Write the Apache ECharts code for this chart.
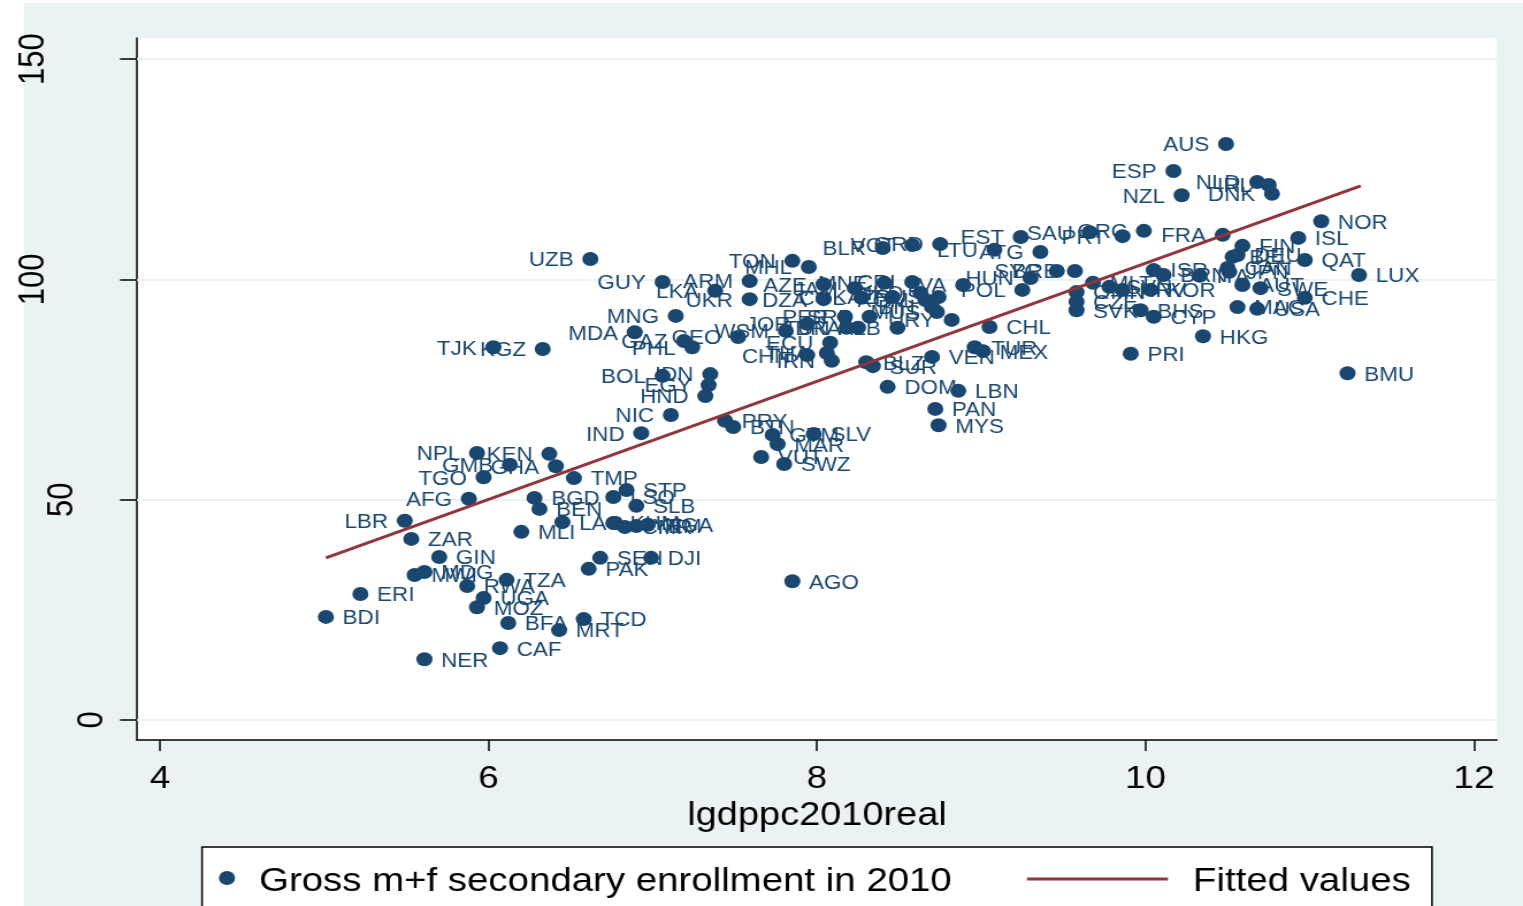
<!DOCTYPE html>
<html>
<head>
<meta charset="utf-8">
<script src="https://cdn.jsdelivr.net/npm/echarts@6/dist/echarts.min.js"></script>
<style>
html,body{margin:0;padding:0;background:#ffffff;overflow:hidden;}
#c{width:1324px;height:906px;transform:scaleX(1.15030);transform-origin:0 0;}
</style>
</head>
<body>
<div id="c"></div>
<script>
// ---- data ----
const codes = [
 'BDI','ERI','NER','CAF','MWI','MDG','GIN','RWA','TZA','UGA',
 'MOZ','BFA','MRT','TCD','PAK','SEN','DJI','AGO','LBR','ZAR',
 'AFG','TGO','NPL','GMB','KEN','GHA','TMP','BGD','BEN','MLI',
 'LAO','STP','LSO','SLB','KHM','CMR','YEM','NGA','IND','NIC',
 'HND','EGY','IDN','BOL','PRY','BTN','GTM','SLV','MAR','VUT',
 'SWZ','DOM','LBN','PAN','MYS','VEN','BLZ','SUR','TUR','MEX',
 'CHL','TJK','KGZ','MDA','MNG','GAZ','PHL','GEO','WSM','UZB',
 'GUY','ARM','LKA','UKR','AZE','DZA','TON','MHL','BLR','VCT',
 'GRD','EST','LTU','ATG','SAU','PRT','GRC','FRA','JAM','MNE',
 'CRI','KAZ','COL','MKD','ROM','RUS','BIH','MUS','LVA','HUN',
 'POL','SRB','PER','JOR','TUN','ALB','URY','BRA','ECU','THA',
 'CHN','IRN','SYC','BRB','MLT','SVN','HRV','KOR','OMN','CZE',
 'SVK','BHS','CYP','PRI','HKG','ISR','BRN','ITA','CAN','JPN',
 'BEL','DEU','FIN','AUT','SWE','MAC','USA','CHE','QAT','LUX',
 'BMU','ISL','NOR','AUS','ESP','NZL','NLD','IRL','DNK'
];
const lgdppc2010real = [
 5.01,5.22,5.61,6.07,5.55,5.61,5.70,5.87,6.11,5.97,
 5.93,6.12,6.43,6.58,6.61,6.68,6.99,7.85,5.49,5.53,
 5.88,5.97,5.93,6.13,6.37,6.41,6.52,6.28,6.31,6.20,
 6.45,6.84,6.76,6.90,6.76,6.83,6.90,6.97,6.93,7.11,
 7.32,7.34,7.35,7.06,7.44,7.49,7.73,7.98,7.76,7.66,
 7.80,8.43,8.86,8.72,8.74,8.70,8.30,8.34,8.96,9.01,
 9.05,6.03,6.33,6.89,7.14,7.19,7.24,7.52,7.81,6.62,
 7.06,7.59,7.38,7.59,8.04,8.04,7.85,7.95,8.40,8.58,
 8.75,9.24,9.08,9.36,9.66,9.86,9.99,10.47,8.23,8.41,
 8.58,8.46,8.27,8.63,8.66,8.74,8.70,8.73,8.89,9.30,
 9.25,8.32,8.17,7.94,8.18,8.49,8.82,8.25,8.08,8.06,
 7.94,8.09,9.46,9.57,9.68,9.78,9.86,10.03,9.58,9.58,
 9.58,9.97,10.05,9.91,10.35,10.05,10.11,10.33,10.50,10.51,
 10.53,10.56,10.59,10.59,10.70,10.56,10.68,10.97,10.97,11.30,
 11.23,10.93,11.07,10.49,10.17,10.22,10.68,10.75,10.77
];
const enrollment2010 = [
 23.4,28.6,13.8,16.3,32.9,33.6,37.0,30.4,31.8,27.7,
 25.6,22.0,20.4,22.9,34.3,36.8,36.8,31.5,45.2,41.1,
 50.2,55.1,60.6,57.9,60.4,57.6,54.9,50.4,47.9,42.7,
 44.9,52.2,50.6,48.6,44.7,43.8,44.0,44.3,65.1,69.2,
 73.5,76.0,78.5,78.1,67.9,66.5,64.7,64.9,62.6,59.7,
 58.1,75.6,74.7,70.6,66.9,82.4,81.2,80.3,84.6,83.7,
 89.2,84.6,84.2,88.0,91.7,86.0,84.6,86.9,88.3,104.6,
 99.4,99.6,97.4,95.5,98.9,95.5,104.2,102.8,107.1,107.8,
 108.0,109.6,106.7,106.2,110.7,109.8,111.0,110.1,98.0,99.2,
 99.4,96.0,95.8,96.9,95.3,96.0,93.7,92.6,98.7,100.3,
 97.6,91.5,91.5,89.9,89.0,89.0,90.8,89.0,85.6,83.3,
 82.8,81.5,101.9,101.9,99.2,98.3,97.6,97.6,97.1,94.9,
 93.0,93.0,91.5,83.1,87.1,102.1,101.0,100.8,102.6,101.7,
 105.1,105.5,107.6,98.7,98.0,93.7,93.3,95.8,104.4,101.0,
 78.7,109.4,113.2,130.7,124.6,119.1,122.1,121.4,119.4
];
// fitted values at the ends of the x range
const fitX = [5.01, 11.31];
const fitY = [36.8, 121.2];
const xTicks = [4, 6, 8, 10, 12];
const yTicks = [0, 50, 100, 150];
const seriesNames = ['Gross m+f secondary enrollment in 2010', 'Fitted values'];
const xTitle = 'lgdppc2010real';

// label placement (style, kept apart from the values)
const leftLabelled = ['LBR','AFG','TGO','NPL','GMB','KEN','GHA','IND','NIC','HND','EGY','IDN','BOL',
 'TJK','KGZ','MDA','MNG','GAZ','PHL','GEO','WSM','UZB','GUY','ARM','LKA','UKR','AZE','DZA','TON','MHL',
 'BLR','VCT','GRD','EST','LTU','ATG','SAU','PRT','GRC','FRA','JAM','MNE','CRI','KAZ','COL','MKD','ROM',
 'RUS','BIH','MUS','LVA','HUN','POL','SRB','PER','JOR','TUN','ALB','URY','BRA','ECU','THA','CHN','IRN',
 'SYC','BRB','AUS','ESP','NZL','NLD','IRL','DNK'];

// ---- chart ----
const S = 1523 / 1324;            // horizontal stretch of the page
const ix = v => v / S;            // screen px -> internal px
const FONT = "'Liberation Sans', Arial, Helvetica, sans-serif";
const NAVY = '#1a476f', MAROON = '#90353b', BG = '#eaf2f3';

const leftSet = new Set(leftLabelled);
const points = codes.map((c, i) => ({
  name: c,
  value: [lgdppc2010real[i], enrollment2010[i]],
  label: { position: leftSet.has(c) ? 'left' : 'right' }
}));
const fitData = fitX.map((x, i) => [x, fitY[i]]);

const chart = echarts.init(document.getElementById('c'), null, { renderer: 'canvas' });
const ylab = { fontSize: 31, color: '#000', fontFamily: FONT };
const option = {
  animation: false,
  backgroundColor: '#ffffff',
  grid: { left: ix(137), right: ix(26), top: 38, bottom: 166, show: true,
          backgroundColor: '#ffffff', borderWidth: 0 },
  xAxis: {
    type: 'value', min: 3.86, max: 12.14,
    axisLine: { onZero: false, lineStyle: { color: '#000', width: 1.5 } },
    axisTick: { customValues: xTicks, length: 11, lineStyle: { color: '#000', width: 1.5 } },
    axisLabel: { customValues: xTicks, margin: 23, fontSize: 32, color: '#000', fontFamily: FONT },
    splitLine: { show: false },
    name: xTitle, nameLocation: 'middle', nameGap: 55,
    nameTextStyle: { fontSize: 33, color: '#000', fontFamily: FONT }
  },
  yAxis: {
    type: 'value', min: -4.54, max: 154.77,
    axisLine: { onZero: false, lineStyle: { color: '#000', width: 1.5 } },
    axisTick: { customValues: yTicks, length: ix(17), lineStyle: { color: '#000', width: 1.5 } },
    axisLabel: {
      customValues: yTicks, rotate: 90, margin: 8,
      formatter: v => '{t' + String(v).length + '|' + v + '}',
      rich: {
        t1: Object.assign({ lineHeight: 62 }, ylab),
        t2: Object.assign({ lineHeight: 114 }, ylab),
        t3: Object.assign({ lineHeight: 163 }, ylab)
      }
    },
    splitLine: { show: false }
  },
  series: [
    {
      name: seriesNames[0], type: 'scatter', data: points,
      symbol: 'circle', symbolSize: 14,
      itemStyle: { color: NAVY, opacity: 1 },
      label: { show: true, formatter: '{b}', distance: 7.5, fontSize: 19.5,
               offset: [0, 2], color: NAVY, fontFamily: FONT },
      emphasis: { disabled: true },
      markLine: {
        silent: true, symbol: 'none', z: 1, animation: false,
        label: { show: false },
        lineStyle: { color: BG, width: 2, type: 'solid' },
        data: yTicks.map(v => ({ yAxis: v }))
      },
      z: 2
    },
    {
      name: seriesNames[1], type: 'line', data: fitData,
      symbol: 'none', lineStyle: { color: MAROON, width: 3 },
      silent: true, z: 3
    }
  ],
  graphic: [
    { type: 'rect', z: -10, silent: true,
      shape: { x: ix(24), y: 3, width: 1400, height: 1000 },
      style: { fill: BG } },
    { type: 'rect', z: 50, silent: true,
      shape: { x: ix(202), y: 847, width: ix(1432 - 202), height: 120 },
      style: { fill: '#ffffff', stroke: '#000', lineWidth: 1.5 } },
    { type: 'circle', z: 51, silent: true,
      shape: { cx: ix(227), cy: 878, r: 7 },
      style: { fill: NAVY } },
    { type: 'text', z: 51, silent: true,
      style: { x: ix(259), y: 882, text: seriesNames[0], fill: '#000',
               font: '33.4px ' + FONT, verticalAlign: 'middle' } },
    { type: 'line', z: 51, silent: true,
      shape: { x1: ix(1027), y1: 879, x2: ix(1168), y2: 879 },
      style: { stroke: MAROON, lineWidth: 3 } },
    { type: 'text', z: 51, silent: true,
      style: { x: ix(1193), y: 882, text: seriesNames[1], fill: '#000',
               font: '33.4px ' + FONT, verticalAlign: 'middle' } }
  ]
};
chart.setOption(option);
</script>
</body>
</html>
